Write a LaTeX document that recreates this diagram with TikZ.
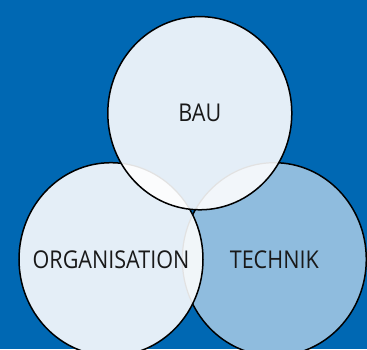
\documentclass[tikz,border=0pt]{standalone}
\usepackage{fontspec}
\setmainfont{Open Sans}[FakeStretch=0.88]
\definecolor{bg}{RGB}{0,104,179}
\definecolor{pale}{RGB}{228,238,247}
\definecolor{mid}{RGB}{143,188,222}
\definecolor{tlcol}{RGB}{251,252,253}
\definecolor{trcol}{RGB}{242,246,250}
\definecolor{lrcol}{RGB}{241,246,249}
\definecolor{allcol}{RGB}{246,249,251}
\definecolor{faint}{RGB}{226,226,226}
\definecolor{ink}{RGB}{25,25,25}
\begin{document}
\begin{tikzpicture}[x=1pt,y=1pt,
  rad/.style={x radius=92pt, y radius=96.6pt},
  outline/.style={draw=black, line width=1.5pt},
  faintline/.style={draw=faint, line width=1.2pt},
  lbl/.style={font=\fontsize{24.5}{29}\selectfont, text=ink, inner sep=0pt}]
\fill[bg] (0,0) rectangle (367,349);
\useasboundingbox (0,0) rectangle (367,349);
\coordinate (cT) at (199.8,235.8);
\coordinate (cL) at (111,89.7);
\coordinate (cR) at (274.3,89.7);
% right circle
\path[fill=mid, outline] (cR) ellipse[rad];
% left circle
\path[fill=pale] (cL) ellipse[rad];
\begin{scope}
  \clip (cL) ellipse[rad];
  \fill[lrcol] (cR) ellipse[rad];
  \path[faintline] (cR) ellipse[rad];
\end{scope}
\path[outline] (cL) ellipse[rad];
% top circle
\path[fill=pale] (cT) ellipse[rad];
\begin{scope}
  \clip (cT) ellipse[rad];
  \fill[tlcol] (cL) ellipse[rad];
  \fill[trcol] (cR) ellipse[rad];
  \begin{scope}
    \clip (cL) ellipse[rad];
    \fill[allcol] (cR) ellipse[rad];
  \end{scope}
  \path[faintline] (cL) ellipse[rad];
  \path[faintline] (cR) ellipse[rad];
\end{scope}
\path[outline] (cT) ellipse[rad];
% labels
\node[lbl] (tBau) at (cT) {BAU};
\node[lbl] (tOrg) at (cL) {ORGANISATION};
\node[lbl] (tTech) at (cR) {TECHNIK};
\end{tikzpicture}
\end{document}
